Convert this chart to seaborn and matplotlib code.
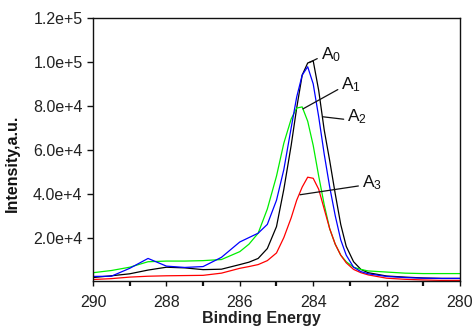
import numpy as np
import pandas as pd
import matplotlib
matplotlib.use("Agg")
import matplotlib.pyplot as plt
import seaborn as sns

# Binding energy grid (eV) and C1s intensities for the four samples
energy = [290, 289.5, 289, 288.5, 288, 287.5, 287, 286.5, 286, 285.75, 285.5,
          285.25, 285.0, 284.8, 284.6, 284.45, 284.3, 284.15, 284.0, 283.85,
          283.7, 283.55, 283.4, 283.25, 283.1, 282.9, 282.7, 282.5, 282.0,
          281.5, 281.0, 280.5, 280.0]

a0 = [1.8e3, 2.6e3, 3.5e3, 5.2e3, 6.5e3, 6.2e3, 5.4e3, 5.6e3, 7.7e3, 8.8e3, 1.05e4,
      1.5e4, 2.5e4, 4.2e4, 6.2e4, 7.9e4, 9.4e4, 9.95e4, 1.005e5, 8.7e4,
      6.9e4, 5.5e4, 4.0e4, 2.6e4, 1.6e4, 9.0e3, 5.5e3, 4.0e3, 2.5e3,
      2.0e3, 1.6e3, 1.4e3, 1.4e3]

a1 = [4.0e3, 5.0e3, 6.5e3, 9.0e3, 9.3e3, 9.3e3, 9.5e3, 1.0e4, 1.36e4, 1.7e4, 2.2e4,
      3.3e4, 4.8e4, 6.3e4, 7.4e4, 7.9e4, 7.95e4, 7.3e4, 6.2e4, 4.8e4,
      3.5e4, 2.4e4, 1.7e4, 1.2e4, 9.0e3, 6.5e3, 5.5e3, 4.8e3, 4.3e3,
      3.8e3, 3.6e3, 3.6e3, 3.6e3]

a2 = [2.3e3, 2.4e3, 6.0e3, 1.05e4, 7.0e3, 6.4e3, 6.8e3, 1.1e4, 1.8e4, 2.0e4, 2.2e4,
      2.6e4, 3.7e4, 5.1e4, 7.0e4, 8.4e4, 9.4e4, 9.78e4, 9.0e4, 7.5e4,
      5.8e4, 4.3e4, 3.0e4, 1.9e4, 1.2e4, 6.5e3, 4.5e3, 3.5e3, 2.3e3,
      1.8e3, 1.5e3, 1.4e3, 1.4e3]

a3 = [0.9e3, 1.3e3, 2.0e3, 2.4e3, 2.6e3, 2.7e3, 2.8e3, 3.8e3, 6.0e3, 6.8e3, 7.7e3,
      9.5e3, 1.3e4, 2.0e4, 2.9e4, 3.7e4, 4.3e4, 4.75e4, 4.7e4, 4.2e4,
      3.3e4, 2.4e4, 1.7e4, 1.2e4, 8.5e3, 5.5e3, 4.0e3, 3.0e3, 1.5e3,
      1.0e3, 0.7e3, 0.5e3, 0.5e3]

samples = ["A0", "A1", "A2", "A3"]
colors = {"A0": "#000000", "A1": "#00ee00", "A2": "#0000ff", "A3": "#ff0000"}

y_ticks = [2e4, 4e4, 6e4, 8e4, 1e5, 1.2e5]
y_tick_labels = ["2.0e+4", "4.0e+4", "6.0e+4", "8.0e+4", "1.0e+5", "1.2e+5"]
x_ticks = [290, 288, 286, 284, 282, 280]

# label -> (point on curve, label anchor)
callouts = {
    "A0": ((284.11, 9.97e4), (283.80, 1.035e5)),
    "A1": ((284.28, 7.86e4), (283.24, 8.95e4)),
    "A2": ((283.73, 7.5e4), (283.08, 7.5e4)),
    "A3": ((284.36, 3.95e4), (282.68, 4.5e4)),
}

df = pd.DataFrame({
    "energy": energy * 4,
    "intensity": a0 + a1 + a2 + a3,
    "sample": sum([[s] * len(energy) for s in samples], []),
})

sns.set_theme(style="ticks")
plt.rcParams["font.family"] = ["Liberation Sans", "DejaVu Sans"]
plt.rcParams["mathtext.default"] = "regular"

fig = plt.figure(figsize=(4.75, 3.29), dpi=100)
ax = fig.add_axes([0.1958, 0.1444, 0.7726, 0.8009])

sns.lineplot(data=df, x="energy", y="intensity", hue="sample",
             hue_order=["A0", "A1", "A3", "A2"], palette=colors,
             estimator=None, linewidth=0.9, legend=False, ax=ax)

ax.set_xlim(290, 280)
ax.set_ylim(0, 1.2e5)
ax.set_xticks(x_ticks)
ax.set_xticklabels([str(t) for t in x_ticks])
ax.set_xticks([289, 287, 285, 283, 281], minor=True)
ax.set_yticks(y_ticks)
ax.set_yticklabels(y_tick_labels)

for side in ["top", "right", "left", "bottom"]:
    ax.spines[side].set_visible(True)
    ax.spines[side].set_color("#111111")
    ax.spines[side].set_linewidth(1.0)

ax.tick_params(axis="both", which="both", direction="out", color="#111111",
               labelsize=11.5, labelcolor="#222222")
ax.tick_params(axis="x", which="major", length=3.5, width=1.0, pad=6.5)
ax.tick_params(axis="x", which="minor", length=3.5, width=1.6)
ax.tick_params(axis="y", which="major", length=4.5, width=1.0, pad=3)

ax.set_xlabel("Binding Energy", fontsize=11.5, fontweight="bold", color="#222222")
ax.set_ylabel("Intensity,a.u.", fontsize=11.5, fontweight="bold", color="#111111")
ax.xaxis.set_label_coords(0.46, -0.113)
ax.yaxis.set_label_coords(-0.2, 0.45)

for name, (pt, txt) in callouts.items():
    ax.annotate(f"A$_{name[1]}$", xy=pt, xytext=txt, textcoords="data",
                fontsize=12.5, ha="left", va="center", color="#111111",
                arrowprops=dict(arrowstyle="-", color="#111111", lw=0.9,
                                shrinkA=0, shrinkB=0, relpos=(0.0, 0.35)))

fig.savefig("out.png", dpi=100)
